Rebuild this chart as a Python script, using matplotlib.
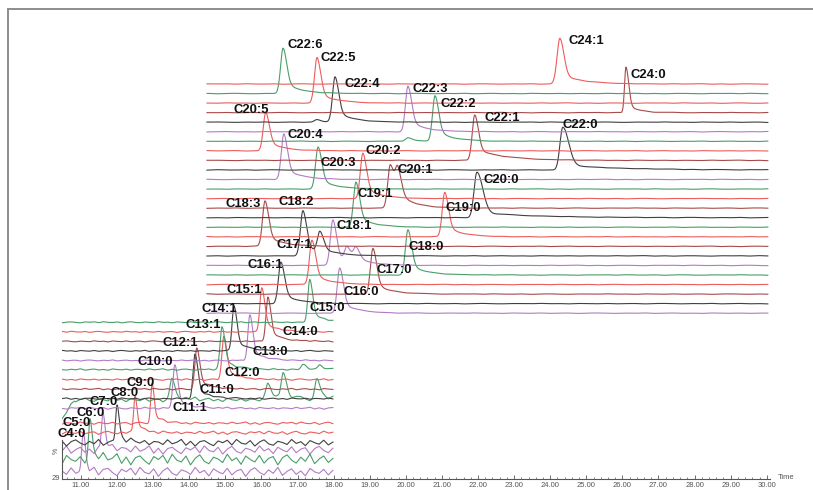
import numpy as np
import matplotlib
matplotlib.use("Agg")
import matplotlib.pyplot as plt
from matplotlib.lines import Line2D
from matplotlib.ticker import MultipleLocator, FuncFormatter

plt.rcParams["font.family"] = ["Liberation Sans", "DejaVu Sans"]

# trace colours
RED = "#ee5c5c"
GREEN = "#4a9e6a"
BROWN = "#a84a4a"
BLACK = "#404040"
PURPLE = "#b27cc4"

# one colour per extracted ion trace, bottom trace first
trace_colors = [PURPLE, GREEN, PURPLE, BLACK, RED, RED, GREEN, PURPLE, BLACK,
                BROWN, RED, GREEN, PURPLE, BLACK, BROWN, RED, GREEN,
                PURPLE, BLACK, BROWN, RED, GREEN, PURPLE, BLACK, BROWN, RED,
                GREEN, BLACK, BROWN, RED, GREEN, PURPLE, BLACK, BROWN, RED,
                GREEN, PURPLE, BLACK, BROWN, RED, GREEN, RED]

# noise floor and noise amplitude of each trace (% of its own maximum)
trace_floor = [9, 15, 15, 10, 11, 11, 41, 2, 2, 2, 2, 3, 2, 2, 2, 2, 2] + [1] * 25
trace_noise = [11, 13, 10, 8, 4, 3, 5, 2.5, 2, 2, 2, 2, 1.5, 1.5, 1.5, 1.5, 1.5] + [0.7] * 25

# first 17 traces belong to the early MRM segment, the rest to the late one
n_early = 17
early_window = (10.47, 17.98)
late_window = (14.49, 30.03)

# labelled peaks: name, trace, retention time (min), height (%)
peak_names = ["C4:0", "C5:0", "C6:0", "C7:0", "C8:0", "C9:0", "C10:0", "C11:1",
              "C11:0", "C12:1", "C12:0", "C13:1", "C13:0", "C14:1", "C14:0",
              "C15:1", "C15:0", "C16:0", "C16:1", "C17:0", "C17:1", "C18:0",
              "C18:1", "C18:2", "C18:3", "C19:0", "C19:1", "C20:0", "C20:1",
              "C20:2", "C20:3", "C20:4", "C22:0", "C22:1", "C20:5", "C22:2",
              "C22:3", "C22:4", "C24:0", "C22:5", "C22:6", "C24:1"]
peak_trace = [0, 1, 2, 3, 4, 5, 7, 6, 8, 9, 10, 11, 12, 13, 14, 15, 16,
              17, 18, 19, 20, 21, 22, 23, 24, 25, 26, 27, 28, 29, 30, 31,
              32, 33, 34, 35, 36, 37, 38, 39, 40, 41]
peak_time = [11.06, 11.25, 11.61, 12.00, 12.50, 12.97, 13.60, 13.52, 14.16,
             14.21, 14.96, 14.91, 15.68, 15.24, 16.18, 16.01, 17.34, 18.17,
             16.54, 19.09, 17.40, 20.06, 17.98, 17.15, 16.10, 21.08, 18.62,
             21.97, 19.57, 18.81, 17.57, 16.62, 24.35, 21.91, 16.12, 20.81,
             20.06, 18.04, 26.10, 17.54, 16.60, 24.27]
peak_height = [87, 100, 96, 96, 93, 98, 96, 84, 98, 91, 97, 96, 100, 100, 98,
               98, 94, 99, 91, 100, 98, 99, 100, 99, 100, 98, 99, 100, 95,
               100, 92, 100, 94, 100, 85, 100, 100, 99, 100, 100, 100, 100]

# shoulders and unlabelled minor peaks
minor_trace = [37, 35, 23, 22, 22, 28, 6, 6, 6, 11, 11]
minor_time = [17.54, 20.06, 17.62, 18.37, 18.62, 19.78, 16.18, 16.60, 17.54, 17.15, 17.62]
minor_height = [7, 9, 46, 32, 30, 70, 78, 100, 85, 14, 12]

# peak shapes (rise sigma, fall sigma, tail fraction, tail decay) that differ from the defaults
shape_overrides = {
    "C24:1": (0.08, 0.11, 0.22, 0.6),
    "C22:0": (0.08, 0.16, 0.12, 1.5),
    "C20:0": (0.08, 0.16, 0.12, 1.5),
    "C22:1": (0.07, 0.10, 0.25, 0.8),
    "C24:0": (0.04, 0.075, 0.20, 0.3),
}

# baseline jitter pattern shared by all traces
jitter = [0.2, -0.5, 0.8, -0.3, 0.1, 0.9, -0.7, 0.4, -0.9, 0.3, 0.6, -0.2,
          -0.8, 0.5, 0.0, 0.7, -0.6, 0.9, -0.1, -0.4, 0.6, -0.9, 0.2, 0.8,
          -0.3, -0.7, 0.4, 0.1, -0.5, 0.9, -0.2, 0.3, -0.8, 0.6, 0.0, -0.4,
          0.7, -0.6, 0.2, 0.5, -0.9, 0.3, 0.8, -0.1, -0.6, 0.4, -0.3, 0.9,
          -0.7, 0.1, 0.6, -0.5, 0.2, -0.8, 0.7, 0.0, -0.3, 0.5, -0.6, 0.3]

# label offsets from the peak apex, in pixels (right, down)
label_dx = [-11, -13, -12, -13, -11, -11, -20, 18, 22, -17, 18, -19, 20, -15,
            32, -18, 17, 21, -16, 21, -18, 18, 21, -7, -22, 18, 19, 24, 25,
            20, 20, 21, 17, 27, -15, 23, 22, 27, 22, 21, 22, 26]
label_dy = [-2, 3, 0, -1, -2, 0, -3, 28, 35, -5, 37, -2, 37, 3, 35, 2, 28, 24,
            3, 21, 5, 17, 6, -9, 3, 16, 12, 8, 5, -2, 16, 1, -2, 3, -2, 8, 3,
            7, 8, 0, -3, 3]

# stacking layout
BASE0 = 3.0
STEP = 9.55
SCALE = 0.46


def peak_shape(t, t0, sl, sr, tail, tau):
    rise = np.exp(-0.5 * ((t - t0) / sl) ** 2)
    dt = np.clip(t - t0, 0, None)
    fall = (1 - tail) * np.exp(-0.5 * (dt / sr) ** 2) + tail * np.exp(-dt / tau)
    return np.where(t < t0, rise, fall)


def default_shape(trace):
    if trace < 6:
        return (0.04, 0.055, 0.25, 0.25)
    if trace < n_early:
        return (0.055, 0.08, 0.25, 0.35)
    return (0.07, 0.10, 0.25, 0.45)


fig = plt.figure(figsize=(8.13, 4.90), dpi=100)
ax = fig.add_axes([62 / 813, 11 / 490, (770 - 62) / 813, 469 / 490])
ax.set_xlim(10.474, 30.09)
ax.set_ylim(0, 469)

for i, color in enumerate(trace_colors):
    lo, hi = early_window if i < n_early else late_window
    t = np.linspace(lo, hi, 2500)
    floor = trace_floor[i]
    y = np.full_like(t, float(floor))
    if floor > 20:
        y *= np.clip((t - lo) / 0.35, 0, 1)
    grid = np.linspace(lo, hi, len(jitter))
    y += trace_noise[i] * np.interp(t, grid, np.roll(jitter, 7 * i))
    for k, name in enumerate(peak_names):
        if peak_trace[k] == i:
            sl, sr, tail, tau = shape_overrides.get(name, default_shape(i))
            y += (peak_height[k] - floor) * peak_shape(t, peak_time[k], sl, sr, tail, tau)
    for k, tr in enumerate(minor_trace):
        if tr == i:
            sl, sr, tail, tau = default_shape(i)
            y += (minor_height[k] - floor) * peak_shape(t, minor_time[k], sl, sr, tail, tau)
    ax.plot(t, BASE0 + STEP * i + SCALE * y, color=color, lw=0.8, zorder=2)

for k, name in enumerate(peak_names):
    apex = BASE0 + STEP * peak_trace[k] + SCALE * peak_height[k]
    ax.annotate(name, xy=(peak_time[k], apex),
                xytext=(label_dx[k] * 0.72, -label_dy[k] * 0.72),
                textcoords="offset points", ha="center", va="center",
                fontsize=9.4, fontweight="bold", color="#111111",
                zorder=5, annotation_clip=False)

# time axis
for side in ("top", "right"):
    ax.spines[side].set_visible(False)
ax.spines["bottom"].set_color("#555555")
ax.spines["bottom"].set_linewidth(0.8)
ax.spines["left"].set_color("#555555")
ax.spines["left"].set_linewidth(0.8)
ax.spines["left"].set_bounds(0, 39)
ax.set_yticks([])
ax.xaxis.set_major_locator(MultipleLocator(1.0))
ax.xaxis.set_minor_locator(MultipleLocator(0.2))
ax.xaxis.set_major_formatter(FuncFormatter(lambda v, p: f"{v:.2f}"))
ax.tick_params(axis="x", which="major", direction="in", length=3.2, width=0.6,
               color="#555555", labelsize=5.5, labelcolor="#555555", pad=2)
ax.tick_params(axis="x", which="minor", direction="in", length=1.6, width=0.5,
               color="#555555")
ax.set_facecolor("none")

fig.text(778 / 813, 1 - 477 / 490, "Time", fontsize=5.5, color="#555555",
         ha="left", va="center")
fig.text(56 / 813, 1 - 478 / 490, "29", fontsize=5.5, color="#555555",
         ha="center", va="center")
fig.text(56 / 813, 1 - 451 / 490, "%", fontsize=5, color="#555555",
         ha="center", va="center", rotation=90)

# window frame
frame_color = "#8c8c8c"
fig.add_artist(Line2D([7.5 / 813, 1.0], [1 - 9.5 / 490] * 2, color=frame_color, lw=1.4))
fig.add_artist(Line2D([7.5 / 813] * 2, [0.0, 1 - 9.5 / 490], color=frame_color, lw=1.4))

fig.savefig("out.png", dpi=100, facecolor="white")
